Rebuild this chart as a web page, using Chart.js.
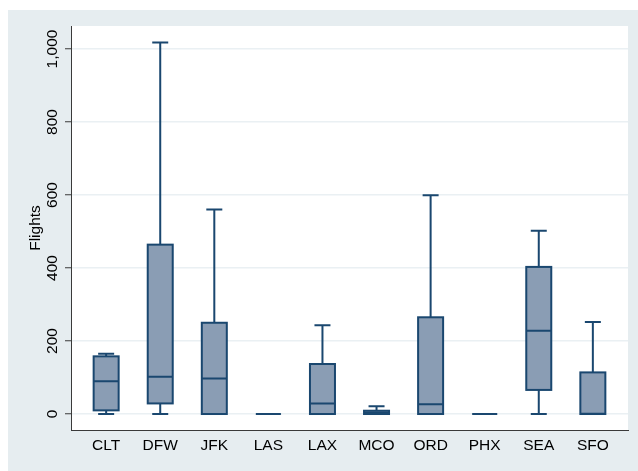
<!DOCTYPE html>
<html>
<head>
<meta charset="utf-8">
<script src="https://cdn.jsdelivr.net/npm/chart.js@4"></script>
<style>
    html, body { margin: 0; padding: 0; background: #ffffff; }
    #frame {
        position: absolute;
        left: 8px;
        top: 10px;
        width: 630px;
        height: 461px;
        background: #e6edf0;
    }
</style>
</head>
<body>
<div id="frame"><canvas id="chartCanvas"></canvas></div>
<script>
// ---------- Data ----------
const airports = ["CLT", "DFW", "JFK", "LAS", "LAX", "MCO", "ORD", "PHX", "SEA", "SFO"];
const whiskerLow = [0, 0, 0, 0, 0, 0, 0, 0, 0, 0];
const quartile1 = [10, 29, 0, 0, 0, 0, 0, 0, 66, 0];
const medians = [90, 102, 97, 0, 29, 4, 27, 0, 228, 1];
const quartile3 = [158, 464, 250, 0, 137, 9, 265, 0, 403, 114];
const whiskerHigh = [165, 1018, 560, 0, 243, 21, 599, 0, 502, 252];
const yTicks = [0, 200, 400, 600, 800, 1000];

const NAVY = "#1a476f";
const BOX_FILL = "#8a9db4";
const FONT = "'Liberation Sans', Arial, Helvetica, sans-serif";
const HALF_BOX = 12.5;
const HALF_CAP = 8;

// ---------- white plot region ----------
const plotBackground = {
    id: "plotBackground",
    beforeDraw(chart) {
        const a = chart.chartArea;
        const ctx = chart.ctx;
        ctx.save();
        ctx.fillStyle = "#ffffff";
        ctx.fillRect(a.left, a.top, a.right - a.left, a.bottom - a.top);
        ctx.restore();
    }
};

// ---------- box outlines, whiskers, caps and medians ----------
const boxExtras = {
    id: "boxExtras",
    afterDatasetsDraw(chart) {
        const ctx = chart.ctx;
        const xs = chart.scales.x;
        const ys = chart.scales.y;
        ctx.save();
        ctx.strokeStyle = NAVY;
        ctx.lineWidth = 2;
        ctx.lineCap = "butt";
        airports.forEach((name, i) => {
            const x = xs.getPixelForValue(i);
            const yLo = ys.getPixelForValue(whiskerLow[i]);
            const yQ1 = ys.getPixelForValue(quartile1[i]);
            const yMed = ys.getPixelForValue(medians[i]);
            const yQ3 = ys.getPixelForValue(quartile3[i]);
            const yHi = ys.getPixelForValue(whiskerHigh[i]);
            ctx.beginPath();
            // whiskers
            if (yHi < yQ3) {
                ctx.moveTo(x, yQ3); ctx.lineTo(x, yHi);
                ctx.moveTo(x - HALF_CAP, yHi); ctx.lineTo(x + HALF_CAP, yHi);
            }
            if (yLo > yQ1) {
                ctx.moveTo(x, yQ1); ctx.lineTo(x, yLo);
                ctx.moveTo(x - HALF_CAP, yLo); ctx.lineTo(x + HALF_CAP, yLo);
            }
            // median
            ctx.moveTo(x - HALF_BOX, yMed); ctx.lineTo(x + HALF_BOX, yMed);
            ctx.stroke();
            // box outline
            if (yQ1 > yQ3) {
                ctx.strokeRect(x - HALF_BOX, yQ3, HALF_BOX * 2, yQ1 - yQ3);
            }
        });
        ctx.restore();
    }
};

function drawChart() {
    const ctx = document.getElementById("chartCanvas").getContext("2d");
    const boxes = airports.map((a, i) => ({ x: i, y: [quartile1[i], quartile3[i]] }));

    return new Chart(ctx, {
        type: "bar",
        data: {
            datasets: [{
                label: "Flights",
                data: boxes,
                backgroundColor: BOX_FILL,
                borderWidth: 0,
                barThickness: HALF_BOX * 2
            }]
        },
        plugins: [plotBackground, boxExtras],
        options: {
            responsive: true,
            maintainAspectRatio: false,
            animation: false,
            layout: { padding: { left: 0, top: 16, right: 10, bottom: 0 } },
            plugins: {
                legend: { display: false },
                tooltip: { enabled: false },
                title: { display: false }
            },
            scales: {
                x: {
                    type: "linear",
                    offset: false,
                    min: -0.65,
                    max: 9.65,
                    afterBuildTicks: scale => {
                        scale.ticks = airports.map((a, i) => ({ value: i }));
                    },
                    afterFit: scale => { scale.height = 41; },
                    grid: { display: true, color: "rgba(0,0,0,0)", drawTicks: false },
                    border: { display: true, color: "#3a3a3a", width: 1 },
                    ticks: {
                        padding: 6,
                        color: "#000",
                        font: { family: FONT, size: 15.5 },
                        maxRotation: 0,
                        autoSkip: false,
                        callback: value => airports[value]
                    }
                },
                y: {
                    min: -43.8,
                    max: 1063,
                    afterBuildTicks: scale => {
                        scale.ticks = yTicks.map(v => ({ value: v }));
                    },
                    afterFit: scale => { scale.width = 63; },
                    grid: {
                        color: "#eaf0f3",
                        lineWidth: 1.5,
                        tickColor: "#3a3a3a",
                        tickLength: 6,
                        tickWidth: 1
                    },
                    border: { display: true, color: "#3a3a3a", width: 1 },
                    title: {
                        display: true,
                        text: "Flights",
                        color: "#000",
                        font: { family: FONT, size: 15.5 },
                        padding: { top: 18, bottom: 0 }
                    },
                    ticks: {
                        color: "#000",
                        font: { family: FONT, size: 15.5 },
                        minRotation: 90,
                        maxRotation: 90,
                        crossAlign: "center",
                        padding: -7,
                        callback: value => value.toLocaleString("en-US")
                    }
                }
            }
        }
    });
}

window.onload = function() {
    drawChart();
};
</script>
</body>
</html>
